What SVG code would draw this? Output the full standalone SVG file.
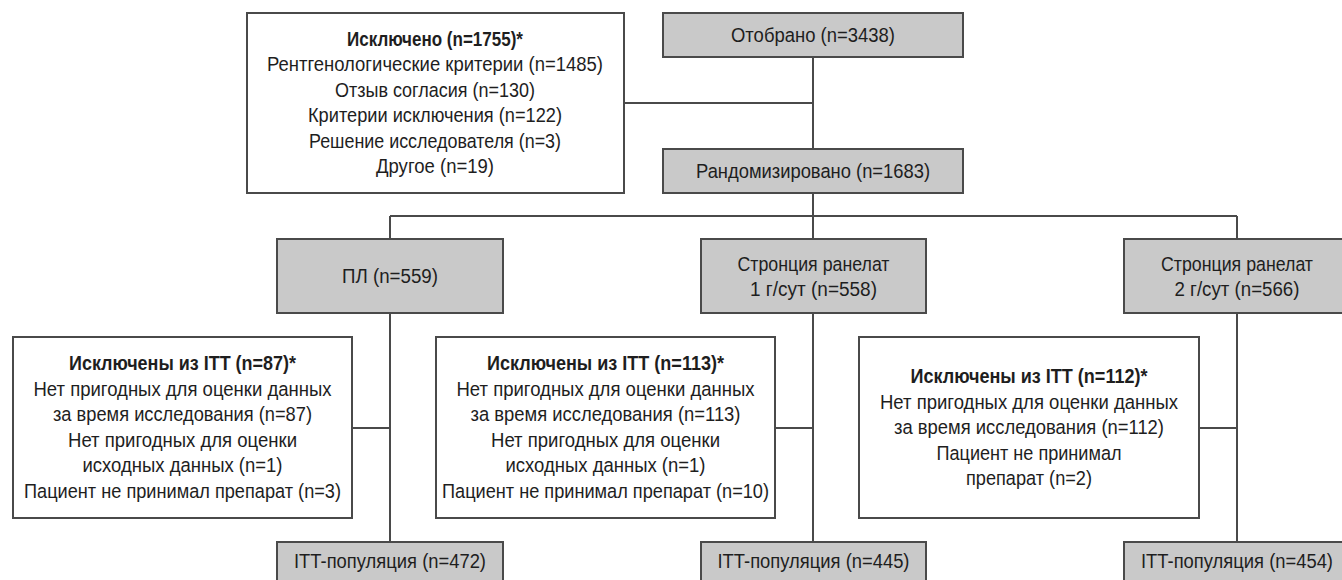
<svg xmlns="http://www.w3.org/2000/svg" width="1342" height="580" viewBox="0 0 1342 580">
<style>
.box{fill:#ffffff;stroke:#4a4a4a;stroke-width:2}
.gbox{fill:#c9c9c9;stroke:#4a4a4a;stroke-width:2}
.ln{fill:none;stroke:#4a4a4a;stroke-width:2}
text{font-family:"Liberation Sans",Arial,sans-serif;font-size:20.5px;fill:#1e1e1e;text-anchor:middle}
.b{font-weight:bold}
</style>
<rect width="1342" height="580" fill="#ffffff"/>
<g id="connectors">
<path class="ln" d="M813 57V149M624 103H813M813 193V239M390 216H1237M390 216V239M1237 216V239M390 313V542M813 313V542M1237 313V542M352 428H390M775 428H813M1199 428H1237"/>
</g>
<g id="n-screened">
<rect class="gbox" x="663" y="13" width="300" height="44"/>
<text x="813" y="41.5" textLength="164" lengthAdjust="spacingAndGlyphs">Отобрано (n=3438)</text>
</g>
<g id="n-excluded">
<rect class="box" x="247" y="13" width="377" height="180"/>
<text class="b" x="435" y="45.5" textLength="176" lengthAdjust="spacingAndGlyphs">Исключено (n=1755)*</text>
<text x="435" y="71" textLength="336" lengthAdjust="spacingAndGlyphs">Рентгенологические критерии (n=1485)</text>
<text x="435" y="96.5" textLength="200" lengthAdjust="spacingAndGlyphs">Отзыв согласия (n=130)</text>
<text x="435" y="122" textLength="254" lengthAdjust="spacingAndGlyphs">Критерии исключения (n=122)</text>
<text x="435" y="147.5" textLength="252" lengthAdjust="spacingAndGlyphs">Решение исследователя (n=3)</text>
<text x="435" y="173" textLength="118" lengthAdjust="spacingAndGlyphs">Другое (n=19)</text>
</g>
<g id="n-randomized">
<rect class="gbox" x="663" y="149" width="300" height="44"/>
<text x="813" y="177.5" textLength="234" lengthAdjust="spacingAndGlyphs">Рандомизировано (n=1683)</text>
</g>
<g id="n-pl">
<rect class="gbox" x="277" y="239" width="226" height="74"/>
<text x="390" y="283" textLength="96" lengthAdjust="spacingAndGlyphs">ПЛ (n=559)</text>
</g>
<g id="n-sr1">
<rect class="gbox" x="701" y="239" width="225" height="74"/>
<text x="813.5" y="270.5" textLength="152" lengthAdjust="spacingAndGlyphs">Стронция ранелат</text>
<text x="813.5" y="296" textLength="127" lengthAdjust="spacingAndGlyphs">1 г/сут (n=558)</text>
</g>
<g id="n-sr2">
<rect class="gbox" x="1124" y="239" width="226" height="74"/>
<text x="1237" y="270.5" textLength="152" lengthAdjust="spacingAndGlyphs">Стронция ранелат</text>
<text x="1237" y="296" textLength="125" lengthAdjust="spacingAndGlyphs">2 г/сут (n=566)</text>
</g>
<g id="n-excl-pl">
<rect class="box" x="13" y="337" width="339" height="181"/>
<text class="b" x="182.5" y="370" textLength="227" lengthAdjust="spacingAndGlyphs">Исключены из ITT (n=87)*</text>
<text x="182.5" y="395.5" textLength="298" lengthAdjust="spacingAndGlyphs">Нет пригодных для оценки данных</text>
<text x="182.5" y="421" textLength="259" lengthAdjust="spacingAndGlyphs">за время исследования (n=87)</text>
<text x="182.5" y="446.5" textLength="229" lengthAdjust="spacingAndGlyphs">Нет пригодных для оценки</text>
<text x="182.5" y="472" textLength="200" lengthAdjust="spacingAndGlyphs">исходных данных (n=1)</text>
<text x="182.5" y="497.5" textLength="317" lengthAdjust="spacingAndGlyphs">Пациент не принимал препарат (n=3)</text>
</g>
<g id="n-excl-sr1">
<rect class="box" x="436" y="337" width="339" height="181"/>
<text class="b" x="605.5" y="370" textLength="237" lengthAdjust="spacingAndGlyphs">Исключены из ITT (n=113)*</text>
<text x="605.5" y="395.5" textLength="298" lengthAdjust="spacingAndGlyphs">Нет пригодных для оценки данных</text>
<text x="605.5" y="421" textLength="270" lengthAdjust="spacingAndGlyphs">за время исследования (n=113)</text>
<text x="605.5" y="446.5" textLength="229" lengthAdjust="spacingAndGlyphs">Нет пригодных для оценки</text>
<text x="605.5" y="472" textLength="200" lengthAdjust="spacingAndGlyphs">исходных данных (n=1)</text>
<text x="605.5" y="497.5" textLength="327" lengthAdjust="spacingAndGlyphs">Пациент не принимал препарат (n=10)</text>
</g>
<g id="n-excl-sr2">
<rect class="box" x="859" y="337" width="340" height="181"/>
<text class="b" x="1029" y="383" textLength="237" lengthAdjust="spacingAndGlyphs">Исключены из ITT (n=112)*</text>
<text x="1029" y="408.5" textLength="298" lengthAdjust="spacingAndGlyphs">Нет пригодных для оценки данных</text>
<text x="1029" y="434" textLength="270" lengthAdjust="spacingAndGlyphs">за время исследования (n=112)</text>
<text x="1029" y="459.5" textLength="185" lengthAdjust="spacingAndGlyphs">Пациент не принимал</text>
<text x="1029" y="485" textLength="126" lengthAdjust="spacingAndGlyphs">препарат (n=2)</text>
</g>
<g id="n-itt-pl">
<rect class="gbox" x="277" y="542" width="226" height="50"/>
<text x="390" y="568" textLength="192" lengthAdjust="spacingAndGlyphs">ITT-популяция (n=472)</text>
</g>
<g id="n-itt-sr1">
<rect class="gbox" x="701" y="542" width="225" height="50"/>
<text x="813.5" y="568" textLength="192" lengthAdjust="spacingAndGlyphs">ITT-популяция (n=445)</text>
</g>
<g id="n-itt-sr2">
<rect class="gbox" x="1124" y="542" width="226" height="50"/>
<text x="1237" y="568" textLength="192" lengthAdjust="spacingAndGlyphs">ITT-популяция (n=454)</text>
</g>
</svg>
